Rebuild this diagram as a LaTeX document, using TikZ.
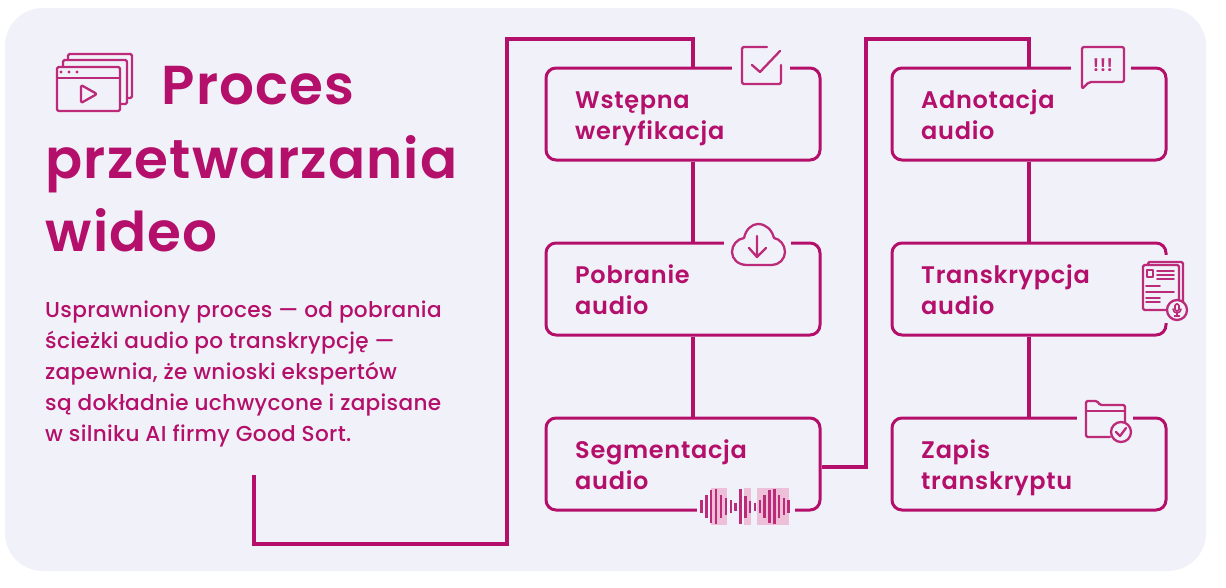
\documentclass[tikz,border=0pt]{standalone}
\usepackage{fontspec}
\setmainfont{Poppins}
\newfontfamily\semib[LetterSpace=3]{Poppins SemiBold}
\newfontfamily\titlef[LetterSpace=2]{Poppins SemiBold}
\newfontfamily\bodyf[LetterSpace=1.5]{Poppins Medium}
\definecolor{mag}{HTML}{B40F6A}
\definecolor{icomag}{HTML}{BC2A7A}
\definecolor{bgc}{HTML}{F1F2F9}
\definecolor{pnk}{HTML}{EDBFD9}
\tikzset{
 box/.style={draw=mag,line width=3pt,rounded corners=10pt,minimum width=274pt,minimum height=92pt,inner sep=0pt},
 conn/.style={draw=mag,line width=3.3pt,line join=miter},
 lab/.style={anchor=base west,align=left,inner sep=0pt,text=mag,font=\semib\fontsize{24}{31}\selectfont},
 ttl/.style={anchor=base west,inner sep=0pt,text=mag,font=\titlef\fontsize{54.8}{54.8}\selectfont},
 bodytxt/.style={anchor=base west,align=left,inner sep=0pt,text=mag,font=\bodyf\fontsize{21.6}{31}\selectfont},
 ico/.style={draw=icomag,line width=2.3pt,line join=round,line cap=round,fill=none},
 thinico/.style={draw=icomag,line width=1.6pt,line join=round,line cap=round,fill=none},
 gap/.style={fill=bgc,draw=none},
}
\begin{document}
\begin{tikzpicture}[x=1pt,y=-1pt]
\useasboundingbox (0,0) rectangle (1226,587);
\fill[white] (0,0) rectangle (1226,587);
\fill[bgc,rounded corners=38pt] (5,8) rectangle (1206,571);
% boxes
\node[box] (b1) at (683,114) {};
\node[box] (b2) at (683,289) {};
\node[box] (b3) at (683,464) {};
\node[box] (c1) at (1029,114) {};
\node[box] (c2) at (1029,289) {};
\node[box] (c3) at (1029,464) {};
% connectors
\coordinate (st) at (254,475);
\coordinate (k1) at (254,544);
\coordinate (k2) at (507,544);
\coordinate (k3) at (507,39);
\coordinate (k4) at (693,39);
\coordinate (m1) at (866,467);
\coordinate (m2) at (866,39);
\coordinate (m3) at (1029,39);
\draw[conn] (st) -- (k1) -- (k2) -- (k3) -- (k4) -- ([xshift=10pt]b1.north);
\draw[conn] ([xshift=10pt]b1.south) -- ([xshift=10pt]b2.north);
\draw[conn] ([xshift=10pt]b2.south) -- ([xshift=10pt]b3.north);
\draw[conn] ([yshift=-3pt]b3.east) -- (m1) -- (m2) -- (m3) -- (c1.north);
\draw[conn] (c1.south) -- (c2.north);
\draw[conn] (c2.south) -- (c3.north);
% border gaps for icons
\fill[gap] (732,60) rectangle (790,76);
\fill[gap] (724,235) rectangle (791,251);
\fill[gap] (697,502) rectangle (795,518);
\fill[gap] (1071,60) rectangle (1131,76);
\fill[gap] (1158,255) rectangle (1174,323);
\fill[gap] (1077,410) rectangle (1133,426);
% labels
\node[lab] (l1) at (575,139) {Wstępna\\weryfikacja};
\node[lab] (l2) at (575,314) {Pobranie\\audio};
\node[lab] (l3) at (575,489) {Segmentacja\\audio};
\node[lab] (l4) at (921,139) {Adnotacja\\audio};
\node[lab] (l5) at (921,314) {Transkrypcja\\audio};
\node[lab] (l6) at (921,489) {Zapis\\transkryptu};
% title
\node[ttl] (t1) at (161.5,104) {Proces};
\node[ttl] (t2) at (45.5,178) {przetwarzania};
\node[ttl] (t3) at (45.5,251.5) {wideo};
\node[bodytxt] (d) at (45,441.5) {Usprawniony proces — od pobrania\\ścieżki audio po transkrypcję —\\zapewnia, że wnioski ekspertów\\są dokładnie uchwycone i zapisane\\w silniku AI firmy Good Sort.};
% window icon
\draw[ico,rounded corners=1.5pt] (57,67) rectangle (120,111);
\draw[ico] (57,78) -- (120,78);
\foreach \x in {61,69,77} \fill[icomag] (\x,72) circle (1.7pt);
\draw[ico,rounded corners=1.5pt] (81,85) -- (81,103) -- (97,94) -- cycle;
\draw[ico,rounded corners=1.5pt] (63,67) -- (63,60) -- (127,60) -- (127,104) -- (120,104);
\draw[ico,rounded corners=1.5pt] (68,60) -- (68,54) -- (132,54) -- (132,98) -- (127,98);
% check icon
\draw[ico,rounded corners=1.5pt] (767,47) -- (742,47) -- (742,84) -- (781,84) -- (781,65);
\draw[ico] (752,65) -- (760,72) -- (780,51);
% cloud icon
\draw[ico] (747,265) .. controls (738,265) and (732,259) .. (732,252) .. controls (732,245) and (737,239) .. (744,238) .. controls (746,229) and (752,224) .. (758,224) .. controls (766,224) and (772,230) .. (774,238) .. controls (780,239) and (785,245) .. (785,252) .. controls (785,259) and (779,265) .. (772,265) -- cycle;
\draw[ico] (757,236) -- (757,257) (749,248) -- (757,257) -- (766,248);
% wave icon
\fill[pnk] (711,488) rectangle (727,525);
\fill[pnk] (744,488) rectangle (751,525);
\fill[pnk] (757,488) rectangle (789,525);
\foreach \v/\h in {65/40,79/70,93/100,108/105,123/70,138/50,153/40,167/25,181/105,196/65,210/35,225/25,240/40,254/70,268/100,283/105,297/70,312/50,326/40}
  \draw[icomag,line width=2.5pt] ({680+\v/3},{506.7-\h/6}) -- ({680+\v/3},{506.7+\h/6});
% bubble icon
\draw[ico,rounded corners=2pt] (1082,89) -- (1082,47) -- (1124,47) -- (1124,82) -- (1089,82) -- cycle;
\node[inner sep=0pt,text=icomag,font=\semib\fontsize{18}{18}\selectfont] (ex) at (1103,65) {!!!};
% transcription icon
\draw[ico,rounded corners=1.5pt] (1148,264) -- (1148,262) -- (1183,262) -- (1183,307);
\draw[ico,rounded corners=1.5pt] (1168,310) -- (1143,310) -- (1143,265) -- (1179,265) -- (1179,300);
\draw[thinico] (1147,270) rectangle (1153,277);
\foreach \y in {271,275,279} \draw[thinico] (1157,\y) -- (1174,\y);
\foreach \y/\e in {286/1160,292/1174,298/1160,302/1160} \draw[thinico] (1146,\y) -- (\e,\y);
\draw[ico,fill=bgc] (1177,310) circle (10pt);
\draw[thinico,rounded corners=1.5pt] (1175,304) rectangle (1179,311);
\draw[thinico] (1173,309) arc[start angle=180,end angle=360,radius=4pt] ;
\draw[thinico] (1177,313) -- (1177,316) (1174.5,316) -- (1179.5,316);
% folder icon
\draw[ico,rounded corners=1.5pt] (1110,437) -- (1086,437) -- (1086,401) -- (1097,401) -- (1100,405) -- (1125,405) -- (1125,425);
\draw[ico] (1086,411) -- (1125,411);
\draw[ico,fill=bgc] (1121,432) circle (10pt);
\draw[ico] (1116,432) -- (1120,436) -- (1126,428);
\end{tikzpicture}
\end{document}
